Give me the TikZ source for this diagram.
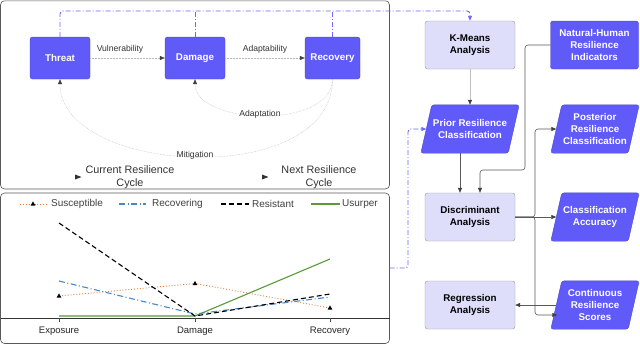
\documentclass[tikz,border=0pt]{standalone}
\usepackage{fontspec}
\setmainfont{Liberation Sans}
\usetikzlibrary{arrows.meta,backgrounds,calc}
\definecolor{nblue}{HTML}{5F5AF8}
\definecolor{nlav}{HTML}{DEDEFA}
\definecolor{ddcol}{HTML}{6E6BFA}
\definecolor{cOrange}{HTML}{E07B39}
\definecolor{cBlue}{HTML}{4A86C8}
\definecolor{cGreen}{HTML}{5A9A3A}
\tikzset{
  x=1pt,y=-1pt,
  panel/.style={draw=gray!70!black,rounded corners=4pt,line width=0.6pt},
  bluebox/.style={fill=nblue,draw=nblue!80!black,rounded corners=2.5pt,text=white,font=\fontsize{9.8}{11.7}\selectfont\bfseries,align=center,inner sep=1pt},
  lavbox/.style={fill=nlav,draw=gray!80,rounded corners=2.5pt,text=black,font=\fontsize{9.8}{11.7}\selectfont\bfseries,align=center,inner sep=1pt,minimum width=90pt,minimum height=48pt},
  paratext/.style={text=white,font=\fontsize{9.8}{11.7}\selectfont\bfseries,align=center,inner sep=1pt,minimum width=77pt,minimum height=48pt},
  flow/.style={draw=gray!55,densely dotted,line width=0.5pt,-{Triangle[length=5pt,width=4pt,color=black!75,fill=black!75]}},
  conn/.style={draw=gray!70!black,line width=0.6pt,rounded corners=3pt,-{Triangle[length=5pt,width=4pt,color=black!75,fill=black!75]}},
  connl/.style={draw=gray!50,line width=0.6pt,-{Triangle[length=5pt,width=4pt,color=black!75,fill=black!75]}},
  dd/.style={draw=ddcol,line width=0.9pt,dash pattern=on 5pt off 2pt on 1pt off 2pt,rounded corners=3pt},
  ddarrow/.style={dd,-{Triangle[length=5pt,width=4pt,color=ddcol,fill=ddcol]}},
  lbl/.style={font=\fontsize{8.6}{10}\selectfont,text=black!80,inner sep=1pt},
  cyc/.style={font=\fontsize{10.8}{13.3}\selectfont,text=black!80,align=center,inner sep=0pt},
  leg/.style={font=\fontsize{10}{12}\selectfont,text=black!75,anchor=west,inner sep=0pt},
  axl/.style={font=\fontsize{9.5}{11}\selectfont,text=black!85,inner sep=0pt}
}
\newcommand\paraShape[1]{%
  \begin{scope}[on background layer]
    \filldraw[fill=nblue,draw=nblue!80!black,rounded corners=2.5pt]
      ([xshift=5.5pt]#1.north west) -- ([xshift=5.5pt]#1.north east) --
      ([xshift=-5.5pt]#1.south east) -- ([xshift=-5.5pt]#1.south west) -- cycle;
  \end{scope}}
\newcommand\trimark[2]{\fill[black] (#1,#2-2.6) -- (#1+2.4,#2+1.6) -- (#1-2.4,#2+1.6) -- cycle;}
\begin{document}
\begin{tikzpicture}
\useasboundingbox (0,0) rectangle (640,362);
\begin{scope}[on background layer]
\fill[white] (0,0) rectangle (640,362);
\end{scope}

% panels
\draw[panel] (0.5,0.8) rectangle (389.5,189);
\draw[panel] (0.5,193) rectangle (389.5,343.5);

% cycle nodes
\node[bluebox,minimum width=60pt,minimum height=42pt] (threat) at (60,58) {Threat};
\node[bluebox,minimum width=60pt,minimum height=42pt] (damage) at (195,58) {Damage};
\node[bluebox,minimum width=55pt,minimum height=42pt] (recov) at (332.5,58) {Recovery};

\draw[flow] (threat.east) -- (damage.west) node[lbl,pos=0.4,above=3pt] {Vulnerability};
\draw[flow] (damage.east) -- (recov.west) node[lbl,midway,above=3pt] {Adaptability};
\draw[flow] (recov.south) .. controls (332,130) and (195,125) .. (damage.south);
\node[lbl] (adl) at (260,114) {Adaptation};
\draw[flow] (recov.south) .. controls (332,190) and (60,175) .. (threat.south);
\node[lbl] (mil) at (195,155) {Mitigation};

\fill[black!80] (75,174.5) -- (81.5,177) -- (75,179.5) -- cycle;
\node[cyc] (cur) at (130,177) {Current Resilience\\Cycle};
\fill[black!80] (262,174.5) -- (268.5,177) -- (262,179.5) -- cycle;
\node[cyc] (nxt) at (319,177) {Next Resilience\\Cycle};

% right side nodes
\node[lavbox] (kmeans) at (470,45) {K-Means\\Analysis};
\node[bluebox,minimum width=88pt,minimum height=48pt] (nat) at (594.5,45) {Natural-Human\\Resilience\\Indicators};
\node[paratext,minimum width=87pt] (prior) at (470,129) {Prior Resilience\\Classification};
\paraShape{prior}
\node[paratext] (post) at (595,129) {Posterior\\Resilience\\Classification};
\paraShape{post}
\node[lavbox] (disc) at (470,217) {Discriminant\\Analysis};
\node[paratext] (acc) at (595,217) {Classification\\Accuracy};
\paraShape{acc}
\node[lavbox] (reg) at (470,305) {Regression\\Analysis};
\node[paratext] (cont) at (595,305) {Continuous\\Resilience\\Scores};
\paraShape{cont}

% connectors right side
\draw[connl] (kmeans.south) -- (prior.north);
\draw[conn] ([xshift=-10pt]prior.south) -- ([xshift=-10pt]disc.north);
\draw[conn] (nat.west) -| (525,170) -| ([xshift=10pt]disc.north);
\draw[conn] (disc.east) -- (acc.west);
\draw[conn] (disc.east) -- (535,217) |- (post.west);
\draw[conn] (disc.east) -- (535,217) |- ([xshift=1pt,yshift=-10pt]cont.west);
\draw[conn] (cont.west) -- (reg.east);

% dash-dot links
\draw[ddarrow] (threat.north) |- (470,11) -- (kmeans.north);
\draw[dd] (damage.north) -- (195,11);
\draw[dd] (recov.north) -- (332.5,11);
\coordinate (pout) at (389.5,268);
\draw[ddarrow] (pout) -| (408,129) -- (prior.west);

% chart legend
\draw[cOrange,line width=0.9pt,dotted] (20,204) -- (47,204);
\trimark{33}{204}
\node[leg] (l1) at (51,204) {Susceptible};
\draw[cBlue,line width=1.1pt,dash pattern=on 6pt off 2.5pt on 1pt off 2.5pt] (119,204) -- (146,204);
\node[leg] (l2) at (152,204) {Recovering};
\draw[black,line width=1.1pt,dash pattern=on 5pt off 3pt] (221,204) -- (249,204);
\node[leg] (l3) at (252,204) {Resistant};
\draw[cGreen,line width=1.1pt] (311,204) -- (340,204);
\node[leg] (l4) at (342,204) {Usurper};

% axis
\draw[black!80,line width=0.7pt] (0.5,318) -- (389.5,318);
\foreach \xx in {59,195,330} \draw[black!70,line width=0.5pt] (\xx,318) -- (\xx,322);
\node[axl] (ax1) at (59,331) {Exposure};
\node[axl] (ax2) at (195,331) {Damage};
\node[axl] (ax3) at (330,331) {Recovery};

% data
\draw[cGreen,line width=1.1pt] (59,316) -- (195,316) -- (330,259);
\draw[cOrange,line width=0.9pt,dotted] (59,296) -- (195,283.5) -- (330,308);
\trimark{59}{296}\trimark{195}{283.5}\trimark{330}{308}
\draw[cBlue,line width=1.1pt,dash pattern=on 6pt off 2.5pt on 1pt off 2.5pt] (59,281) -- (195,314) -- (330,297);
\draw[black,line width=1.1pt,dash pattern=on 5pt off 3pt] (59,223) -- (195,316) -- (330,294);
\end{tikzpicture}
\end{document}
